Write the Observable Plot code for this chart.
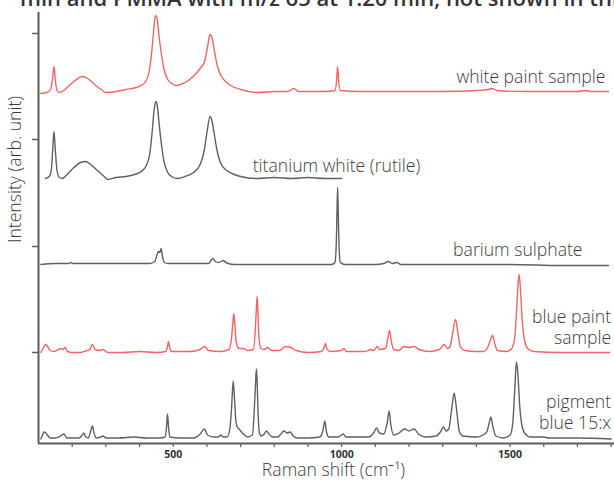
<!DOCTYPE html>
<html><head><meta charset="utf-8">
<script src="https://cdn.jsdelivr.net/npm/d3@7"></script>
<script src="https://cdn.jsdelivr.net/npm/@observablehq/plot@0.6"></script>
<style>
body{margin:0;background:#fff;overflow:hidden;}
#wrap{position:relative;width:614px;height:482px;overflow:hidden;background:#fff;}
#wrap svg{position:absolute;left:0;top:0;}
#cap{position:absolute;left:20px;top:-18px;font:600 22px "Open Sans",sans-serif;color:#333;white-space:nowrap;z-index:2;}
</style></head>
<body><div id="wrap"><div id="cap">min and PMMA with m/z 65 at 1.20 min, not shown in this figure).</div></div>
<script>
// Spectra: [Raman shift (cm-1), intensity above the spectrum's own baseline (arb.)]
const whitePaint = [[107,-1],[125,0],[136,3],[141,12],[146,26],[150,12],[155,2],[162,0],[170,1],[185,5],[205,11],[230,16],[250,13],[270,7],[290,2],[300,0],[330,1],[360,3],[390,5],[405,7],[420,12],[430,24],[436,40],[442,62],[447,77],[452,74],[458,56],[465,38],[472,24],[482,14],[495,9],[510,7],[522,8],[545,12],[565,18],[580,24],[593,31],[602,46],[609,58],[615,55],[622,42],[630,28],[640,18],[655,11],[670,7],[700,3],[750,0],[800,1],[840,1],[858,4],[872,1],[950,1],[980,2],[985,12],[988,26],[991,12],[996,2],[1050,1],[1200,1],[1300,1],[1400,2],[1435,3],[1447,4],[1460,2],[1550,1],[1700,1],[1724,2],[1740,1],[1792,1]];
const titaniumWhite = [[121,0],[132,2],[138,8],[142,28],[146,47],[150,28],[155,8],[162,1],[170,0],[185,4],[205,11],[225,16],[240,17],[255,14],[275,8],[295,2],[306,-1],[330,1],[360,2],[385,4],[405,7],[420,13],[430,24],[437,45],[443,68],[448,77],[452,74],[458,55],[465,34],[472,18],[482,7],[495,2],[512,0],[535,2],[560,6],[580,14],[592,28],[601,48],[609,62],[614,59],[622,44],[630,28],[640,16],[655,9],[675,5],[700,2],[748,0],[800,1],[850,0],[900,1],[950,0],[1000,0]];
const bariumSulphate = [[107,0],[150,1],[190,1],[196,2],[202,1],[300,1],[400,1],[430,1],[445,3],[452,10],[456,13],[460,12],[464,16],[468,8],[474,2],[485,1],[560,1],[605,1],[612,4],[618,6],[625,3],[635,2],[649,4],[656,2],[680,0],[800,0],[900,0],[970,0],[980,2],[984,20],[986,50],[988,77],[990,50],[992,20],[996,2],[1010,0],[1100,0],[1125,1],[1139,3],[1150,1],[1165,2],[1175,0],[1300,0],[1500,0],[1650,-1],[1792,-1]];
const bluePaint = [[107,0],[115,5],[121,8],[127,6],[135,2],[145,1],[160,3],[166,4],[172,3],[179,5],[186,1],[200,0],[225,0],[235,1],[252,3],[260,8],[268,3],[280,2],[292,3],[305,0],[350,0],[400,1],[450,0],[478,1],[483,6],[486,11],[489,6],[494,1],[550,1],[580,3],[593,6],[605,2],[640,1],[665,3],[673,14],[677,30],[680,39],[683,28],[687,10],[695,4],[709,4],[720,2],[738,3],[744,25],[747,45],[749,56],[751,44],[754,18],[760,4],[770,3],[780,5],[792,2],[815,2],[834,6],[849,5],[865,2],[900,0],[940,1],[948,5],[952,9],[956,4],[965,1],[1000,2],[1007,4],[1014,1],[1070,1],[1086,3],[1095,2],[1106,6],[1112,3],[1130,4],[1136,12],[1142,22],[1148,10],[1155,3],[1170,2],[1185,6],[1200,5],[1215,6],[1230,3],[1260,1],[1290,3],[1304,8],[1314,4],[1322,6],[1330,20],[1338,33],[1345,20],[1352,6],[1365,2],[1400,1],[1421,1],[1432,4],[1440,11],[1448,17],[1455,8],[1463,2],[1490,1],[1505,4],[1514,16],[1520,46],[1524,70],[1527,78],[1531,62],[1536,32],[1543,12],[1552,4],[1570,1],[1650,0],[1796,0]];
const pigmentBlue = [[107,0],[112,4],[117,7],[124,5],[135,1],[150,1],[166,3],[176,5],[184,1],[200,1],[220,1],[230,4],[235,6],[240,2],[248,1],[255,8],[260,13],[265,6],[272,1],[285,2],[292,3],[300,1],[340,1],[384,2],[420,1],[460,1],[476,2],[480,12],[483,25],[486,12],[490,2],[520,1],[560,1],[580,5],[592,10],[602,4],[620,2],[634,2],[641,4],[648,2],[660,2],[668,10],[673,30],[678,58],[682,40],[686,18],[690,12],[698,9],[705,6],[712,4],[720,2],[735,4],[741,32],[745,60],[747,70],[749,58],[752,25],[756,6],[762,3],[770,5],[777,8],[784,5],[795,2],[810,2],[822,6],[829,8],[838,6],[847,7],[856,3],[869,1],[900,1],[935,2],[944,8],[950,18],[955,7],[962,2],[990,2],[1005,5],[1012,2],[1050,2],[1080,2],[1095,6],[1104,11],[1112,6],[1125,5],[1135,16],[1141,28],[1146,14],[1155,4],[1170,6],[1187,10],[1200,8],[1215,10],[1228,5],[1250,2],[1280,3],[1295,8],[1302,12],[1310,8],[1318,10],[1326,28],[1334,46],[1341,30],[1349,8],[1360,3],[1400,2],[1425,5],[1432,8],[1438,16],[1443,22],[1449,12],[1458,3],[1480,1],[1500,4],[1508,16],[1514,50],[1519,77],[1523,66],[1528,36],[1535,14],[1545,5],[1560,2],[1600,2],[1615,1],[1700,1],[1800,0]];

const seriesNames = ["white paint sample", "titanium white (rutile)", "barium sulphate", "blue paint sample", "pigment blue 15:x"];
const seriesData = [whitePaint, titaniumWhite, bariumSulphate, bluePaint, pigmentBlue];
const offsets = [351, 265, 179, 91, 4.5];          // vertical stacking offsets (arb.)
const seriesColors = ["#f46464", "#606060", "#606060", "#f46464", "#606060"];

const xTicks = d3.range(200, 1900, 100);
const xTickLabels = [500, 1000, 1500];
const yTicks = [91, 197, 304, 410];

// annotation labels: text, x (cm-1), y (arb.), anchor
const labelText = ["white paint sample", "titanium white (rutile)", "barium sulphate", "blue paint\nsample", "pigment\nblue 15:x"];
const labelX = [1783, 736, 1715, 1800, 1800];
const labelY = [367, 278, 194, 117, 32];
const labelAnchor = ["end", "start", "end", "end", "end"];

const rows = seriesData.map((s, i) => s.map(([w, h]) => ({series: seriesNames[i], w, v: offsets[i] + h})));
const labels = labelText.map((t, i) => ({t, x: labelX[i], y: labelY[i], a: labelAnchor[i]}));

const font = "'Open Sans', sans-serif";
const axisColor = "#5c5c5c";
const textColor = "#3c3c3c";
const fs = 17.6;

const chart = Plot.plot({
  width: 614, height: 482,
  marginLeft: 38, marginRight: 0, marginTop: 12, marginBottom: 39,
  x: {domain: [100, 1810]},
  y: {domain: [0, 431]},
  style: {fontFamily: font, background: "transparent", color: "#333"},
  marks: [
    ...rows.map((r, i) => Plot.line(r, {x: "w", y: "v", stroke: seriesColors[i], strokeWidth: 1.4, curve: "monotone-x"})),
    Plot.ruleX([100], {stroke: axisColor, strokeWidth: 2}),
    Plot.ruleY([0], {stroke: axisColor, strokeWidth: 2}),
    Plot.axisY({ticks: yTicks, tickFormat: () => "", tickSize: 6, stroke: axisColor, strokeWidth: 1.5, label: null}),
    Plot.axisX({ticks: xTicks, tickFormat: d => xTickLabels.includes(d) ? String(d) : "", tickSize: 4, tickPadding: 3, stroke: axisColor, strokeWidth: 1.2, fontSize: 10.5, fontWeight: "bold", fill: "#333", label: null}),
    Plot.text(labels.filter(d => d.a === "end"), {x: "x", y: "y", text: "t", textAnchor: "end", fontSize: fs, fontWeight: 300, fill: textColor, lineHeight: 1.24}),
    Plot.text(labels.filter(d => d.a === "start"), {x: "x", y: "y", text: "t", textAnchor: "start", fontSize: fs, fontWeight: 300, fill: textColor, lineHeight: 1.24}),
    Plot.text(["Raman shift (cm\u207B\u00B9)"], {frameAnchor: "bottom", dx: 7, dy: 32, fontSize: fs, fontWeight: 300, fill: textColor}),
    Plot.text(["Intensity (arb. unit)"], {frameAnchor: "left", rotate: -90, dx: -23, dy: 15, fontSize: fs, fontWeight: 300, fill: textColor})
  ]
});
document.getElementById("wrap").appendChild(chart);
</script>
</body></html>
